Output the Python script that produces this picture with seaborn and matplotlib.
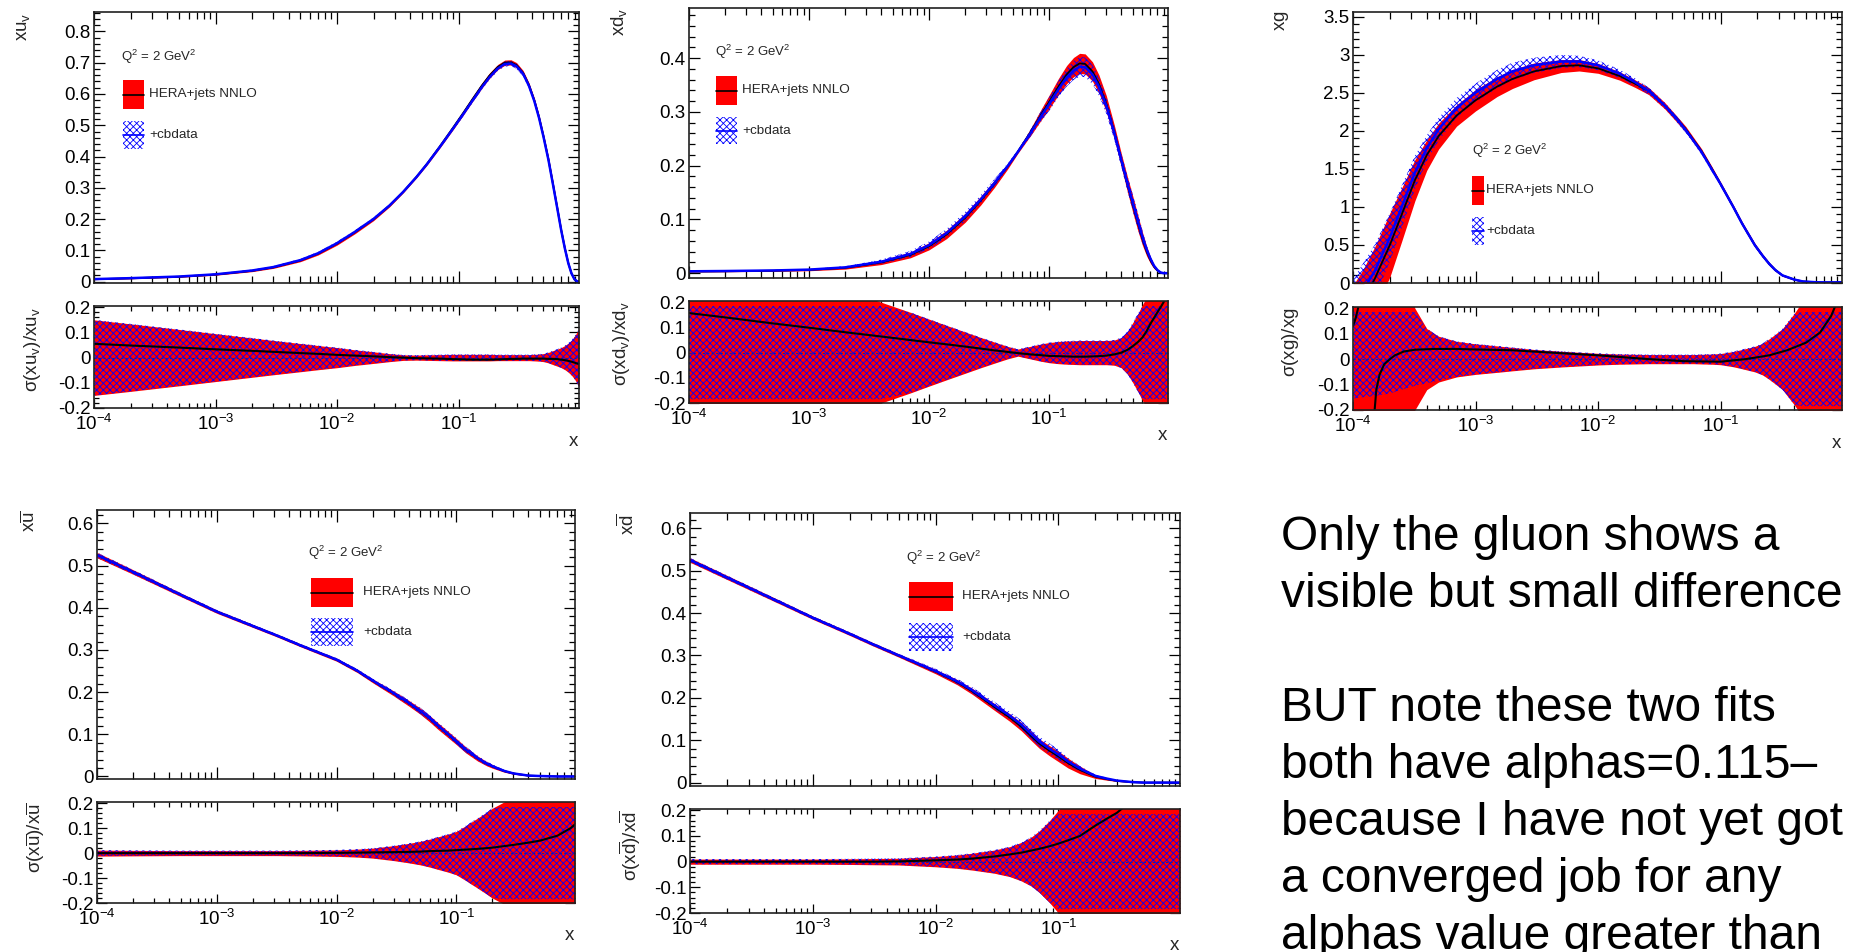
import numpy as np
import matplotlib
matplotlib.use("Agg")
import matplotlib.pyplot as plt
import seaborn as sns
from matplotlib.patches import Rectangle
from matplotlib.lines import Line2D
from matplotlib.ticker import NullFormatter

# ------------------------------------------------------------------ data
# xu_v  (central value of HERA+jets NNLO, relative uncertainty, relative shift of +cbdata)
x_uv = [1e-4, 2e-4, 5e-4, 1e-3, 2e-3, 3e-3, 5e-3, 7e-3, 1e-2, 1.4e-2,
        2e-2, 2.7e-2, 3.5e-2, 4.5e-2, 5.5e-2, 7e-2, 9e-2, 0.11, 0.13, 0.155,
        0.18, 0.21, 0.24, 0.27, 0.3, 0.34, 0.38, 0.42, 0.46, 0.5,
        0.55, 0.6, 0.65, 0.7, 0.75, 0.8, 0.85, 0.9, 0.94, 0.98]
uv_central = [0.008, 0.011, 0.016, 0.023, 0.035, 0.046, 0.068, 0.090, 0.122, 0.158,
              0.200, 0.243, 0.287, 0.335, 0.377, 0.432, 0.492, 0.541, 0.583, 0.626,
              0.659, 0.686, 0.700, 0.701, 0.692, 0.667, 0.628, 0.580, 0.525, 0.465,
              0.390, 0.310, 0.235, 0.165, 0.107, 0.060, 0.027, 0.008, 0.002, 0.0]
uv_relerr = [0.150, 0.134, 0.112, 0.095, 0.078, 0.068, 0.056, 0.048, 0.040, 0.031,
             0.023, 0.016, 0.011, 0.010, 0.011, 0.012, 0.013, 0.013, 0.013, 0.013,
             0.013, 0.012, 0.012, 0.012, 0.012, 0.012, 0.012, 0.013, 0.014, 0.016,
             0.021, 0.028, 0.034, 0.040, 0.048, 0.058, 0.070, 0.085, 0.100, 0.115]
uv_shift = [0.055, 0.048, 0.040, 0.033, 0.027, 0.023, 0.018, 0.015, 0.011, 0.008,
            0.005, 0.002, 0.0, -0.002, -0.003, -0.004, -0.006, -0.007, -0.008, -0.008,
            -0.008, -0.007, -0.006, -0.005, -0.005, -0.004, -0.004, -0.004, -0.004, -0.004,
            -0.005, -0.005, -0.006, -0.008, -0.010, -0.013, -0.016, -0.020, -0.023, -0.025]

# xd_v
x_dv = [1e-4, 2e-4, 5e-4, 1e-3, 2e-3, 4e-3, 7e-3, 1e-2, 1.4e-2, 2e-2,
        2.7e-2, 3.5e-2, 4.5e-2, 5.5e-2, 7e-2, 8.5e-2, 0.1, 0.12, 0.14, 0.16,
        0.18, 0.2, 0.23, 0.26, 0.3, 0.35, 0.4, 0.45, 0.5, 0.55,
        0.6, 0.65, 0.7, 0.75, 0.8, 0.85, 0.9, 0.98]
dv_central = [0.003, 0.0035, 0.0045, 0.006, 0.010, 0.020, 0.034, 0.050, 0.072, 0.103,
              0.135, 0.166, 0.198, 0.226, 0.262, 0.293, 0.318, 0.347, 0.369, 0.383,
              0.390, 0.389, 0.375, 0.352, 0.315, 0.262, 0.210, 0.165, 0.127, 0.093,
              0.064, 0.041, 0.024, 0.012, 0.005, 0.001, 0.0, 0.0]
dv_relerr = [0.25, 0.25, 0.25, 0.25, 0.25, 0.20, 0.16, 0.133, 0.108, 0.082,
             0.060, 0.042, 0.025, 0.014, 0.025, 0.034, 0.040, 0.044, 0.046, 0.047,
             0.048, 0.048, 0.048, 0.048, 0.048, 0.050, 0.060, 0.085, 0.120, 0.155,
             0.190, 0.22, 0.25, 0.30, 0.30, 0.30, 0.30, 0.30]
dv_shift = [0.157, 0.140, 0.116, 0.099, 0.081, 0.064, 0.050, 0.041, 0.033, 0.024,
            0.016, 0.009, 0.003, -0.002, -0.007, -0.010, -0.013, -0.014, -0.015, -0.016,
            -0.016, -0.016, -0.015, -0.014, -0.012, -0.007, 0.000, 0.011, 0.026, 0.042,
            0.060, 0.085, 0.115, 0.138, 0.160, 0.180, 0.200, 0.240]

# xg
x_g = [1e-4, 1.2e-4, 1.5e-4, 2e-4, 2.5e-4, 3.2e-4, 4e-4, 5e-4, 7e-4, 1e-3,
       1.5e-3, 2e-3, 3e-3, 5e-3, 7e-3, 1e-2, 1.5e-2, 2e-2, 2.6e-2, 3.5e-2,
       4.3e-2, 5.2e-2, 6e-2, 7e-2, 8.5e-2, 0.1, 0.127, 0.15, 0.19, 0.22,
       0.25, 0.28, 0.32, 0.4, 0.47, 0.6, 0.7, 0.85, 0.98]
g_red = [-0.45, -0.25, 0.05, 0.50, 0.90, 1.35, 1.68, 1.93, 2.20, 2.40,
         2.58, 2.68, 2.78, 2.85, 2.86, 2.82, 2.72, 2.62, 2.52, 2.33,
         2.17, 2.02, 1.88, 1.73, 1.50, 1.30, 1.00, 0.78, 0.50, 0.36,
         0.25, 0.17, 0.10, 0.045, 0.02, 0.01, 0.008, 0.008, 0.01]
g_red_err = [0.42, 0.42, 0.42, 0.42, 0.35, 0.27, 0.20, 0.17, 0.14, 0.14,
             0.13, 0.125, 0.11, 0.085, 0.075, 0.065, 0.055, 0.05, 0.046, 0.042,
             0.04, 0.037, 0.035, 0.033, 0.03, 0.028, 0.025, 0.025, 0.025, 0.022,
             0.02, 0.016, 0.012, 0.008, 0.005, 0.004, 0.004, 0.004, 0.004]
g_blue = [-0.30, -0.10, 0.15, 0.60, 1.00, 1.45, 1.77, 2.02, 2.30, 2.50,
          2.68, 2.78, 2.86, 2.91, 2.91, 2.86, 2.75, 2.64, 2.52, 2.33,
          2.17, 2.01, 1.87, 1.72, 1.49, 1.30, 1.00, 0.78, 0.50, 0.36,
          0.25, 0.17, 0.10, 0.045, 0.02, 0.01, 0.008, 0.008, 0.01]
g_blue_err = [0.35, 0.35, 0.35, 0.32, 0.28, 0.22, 0.17, 0.15, 0.13, 0.12,
              0.12, 0.115, 0.10, 0.085, 0.075, 0.065, 0.055, 0.05, 0.046, 0.042,
              0.04, 0.037, 0.035, 0.033, 0.03, 0.028, 0.025, 0.025, 0.025, 0.022,
              0.02, 0.016, 0.012, 0.008, 0.005, 0.004, 0.004, 0.004, 0.004]
g_rat_err = [0.50, 0.50, 0.50, 0.50, 0.35, 0.20, 0.12, 0.09, 0.07, 0.06,
             0.052, 0.046, 0.038, 0.031, 0.027, 0.023, 0.020, 0.019, 0.018, 0.018,
             0.018, 0.018, 0.018, 0.019, 0.020, 0.022, 0.030, 0.038, 0.050, 0.062,
             0.080, 0.098, 0.120, 0.180, 0.230, 0.30, 0.30, 0.30, 0.30]
g_rat_blue_lo = [-0.155, -0.150, -0.145, -0.135, -0.120, -0.105, -0.095, -0.085, -0.070, -0.060,
                 -0.052, -0.046, -0.038, -0.031, -0.027, -0.023, -0.020, -0.019, -0.018, -0.018,
                 -0.018, -0.018, -0.018, -0.019, -0.020, -0.022, -0.030, -0.038, -0.050, -0.062,
                 -0.080, -0.098, -0.120, -0.180, -0.185, -0.185, -0.185, -0.185, -0.185]
g_shift_x_left = [1e-4, 1.05e-4, 1.1e-4, 1.15e-4]
g_shift_left = [0.13, 0.16, 0.20, 0.25]
g_shift_x_right = [1.49e-4, 1.55e-4, 1.65e-4, 1.8e-4, 2e-4, 2.2e-4, 2.6e-4, 3.2e-4, 4.6e-4, 7e-4,
                   1e-3, 2e-3, 4e-3, 1e-2, 2.6e-2, 5e-2, 0.1, 0.16, 0.25, 0.35, 0.5, 0.65, 0.8, 0.9]
g_shift_right = [-0.22, -0.12, -0.06, -0.02, 0.0, 0.015, 0.03, 0.037, 0.04, 0.04,
                 0.038, 0.035, 0.026, 0.015, 0.0, -0.008, -0.010, 0.0, 0.015, 0.035, 0.065, 0.105, 0.17, 0.23]

# x ubar
x_ub = [1e-4, 2e-4, 5e-4, 1e-3, 2e-3, 3.2e-3, 5e-3, 1e-2, 1.5e-2, 2e-2,
        3e-2, 4e-2, 5e-2, 6e-2, 7e-2, 8.5e-2, 0.1, 0.12, 0.15, 0.18,
        0.2, 0.25, 0.3, 0.4, 0.5, 0.7, 0.9, 0.98]
ub_central = [0.525, 0.485, 0.431, 0.391, 0.357, 0.334, 0.311, 0.277, 0.250, 0.227,
              0.197, 0.174, 0.155, 0.137, 0.120, 0.100, 0.083, 0.063, 0.043, 0.030,
              0.024, 0.013, 0.007, 0.002, 0.001, 0.0, 0.0, 0.0]
ub_relerr = [0.012, 0.011, 0.010, 0.010, 0.010, 0.010, 0.011, 0.013, 0.016, 0.020,
             0.030, 0.039, 0.047, 0.056, 0.065, 0.076, 0.087, 0.110, 0.140, 0.165,
             0.180, 0.205, 0.25, 0.30, 0.30, 0.30, 0.30, 0.30]
ub_shift = [0.0, 0.0, 0.0, 0.0, 0.0, 0.0, 0.0, 0.001, 0.002, 0.003,
            0.004, 0.005, 0.006, 0.008, 0.009, 0.010, 0.012, 0.014, 0.017, 0.020,
            0.022, 0.028, 0.033, 0.042, 0.050, 0.070, 0.100, 0.115]

# x dbar
x_db = [1e-4, 2e-4, 5e-4, 1e-3, 2e-3, 3e-3, 5e-3, 1e-2, 1.5e-2, 2e-2,
        3e-2, 4e-2, 5e-2, 6e-2, 7e-2, 8.5e-2, 0.1, 0.12, 0.15, 0.2,
        0.25, 0.3, 0.4, 0.5, 0.7, 0.9, 0.98]
db_central = [0.525, 0.484, 0.430, 0.389, 0.351, 0.328, 0.300, 0.262, 0.237, 0.215,
              0.179, 0.154, 0.132, 0.110, 0.092, 0.075, 0.062, 0.046, 0.030, 0.014,
              0.008, 0.004, 0.001, 0.0, 0.0, 0.0, 0.0]
db_relerr = [0.010, 0.010, 0.010, 0.010, 0.011, 0.012, 0.013, 0.020, 0.026, 0.033,
             0.045, 0.058, 0.075, 0.095, 0.120, 0.160, 0.200, 0.25, 0.30, 0.30,
             0.30, 0.30, 0.30, 0.30, 0.30, 0.30, 0.30]
db_shift = [0.0, 0.0, 0.0, 0.0, 0.0, 0.0, 0.001, 0.005, 0.008, 0.012,
            0.020, 0.028, 0.035, 0.043, 0.050, 0.060, 0.070, 0.083, 0.100, 0.140,
            0.168, 0.190, 0.240, 0.30, 0.30, 0.30, 0.30]

BLUE_CAP = 0.185   # +cbdata ratio band reaches up to this value

X_MAJOR = [1e-4, 1e-3, 1e-2, 1e-1]
X_LABELS = [r"$\mathregular{10^{-4}}$", r"$\mathregular{10^{-3}}$",
            r"$\mathregular{10^{-2}}$", r"$\mathregular{10^{-1}}$"]
RATIO_TICKS = [-0.2, -0.1, 0.0, 0.1, 0.2]
RATIO_LABELS = ["-0.2", "-0.1", "0", "0.1", "0.2"]

notes = ["Only the gluon shows a",
         "visible but small difference",
         "",
         "BUT note these two fits",
         "both have alphas=0.115\u2013",
         "because I have not yet got",
         "a converged job for any",
         "alphas value greater than"]

# ------------------------------------------------------------------ style
W, H, DPI = 1851, 952, 100
RED = "#ff0000"
BLUE = "#0000ff"
HATCH = "xxxxx"
X_LO, X_HI = 1e-4, 0.98
X_MINOR = [m * 10.0 ** e for e in range(-4, 0) for m in range(2, 10)]
FS = 13.5

sns.set_theme(style="ticks")
plt.rcParams["font.family"] = ["Liberation Sans", "DejaVu Sans"]
plt.rcParams["mathtext.fontset"] = "custom"
plt.rcParams["mathtext.rm"] = "Liberation Sans"
plt.rcParams["mathtext.it"] = "Liberation Sans:italic"
plt.rcParams["mathtext.bf"] = "Liberation Sans:bold"
plt.rcParams["axes.unicode_minus"] = False
plt.rcParams["hatch.linewidth"] = 0.6

fig = plt.figure(figsize=(W / DPI, H / DPI), dpi=DPI)
fig.patch.set_facecolor("white")


def px_axes(l, t, r, b):
    return fig.add_axes([l / W, 1 - b / H, (r - l) / W, (b - t) / H])


def ftext(x, y, s, **kw):
    fig.text(x / W, 1 - y / H, s, **kw)


def frect(x0, y0, x1, y1, **kw):
    fig.add_artist(Rectangle((x0 / W, 1 - y1 / H), (x1 - x0) / W, (y1 - y0) / H,
                             transform=fig.transFigure, **kw))


def fline(x0, x1, y, **kw):
    fig.add_artist(Line2D([x0 / W, x1 / W], [1 - y / H, 1 - y / H],
                          transform=fig.transFigure, **kw))


def style(ax, ylim, yt, ylab, ymin, show_x, ratio=False):
    ax.set_xscale("log")
    ax.set_xlim(X_LO, X_HI)
    ax.set_ylim(*ylim)
    ax.set_yticks(yt, ylab)
    ax.set_yticks(ymin, minor=True)
    ax.set_xticks(X_MAJOR, X_LABELS if show_x else [""] * 4)
    ax.set_xticks(X_MINOR, minor=True)
    ax.xaxis.set_minor_formatter(NullFormatter())
    ax.tick_params(axis="both", which="both", direction="in", top=True, right=True,
                   colors="black", labelsize=FS, width=0.9)
    ax.tick_params(axis="x", which="major", length=6.5 if ratio else 8.5, pad=4)
    ax.tick_params(axis="x", which="minor", length=3.5 if ratio else 5)
    ax.tick_params(axis="y", which="major", length=7 if ratio else 8, pad=2.5)
    ax.tick_params(axis="y", which="minor", length=3.5 if ratio else 4)
    for s in ax.spines.values():
        s.set_linewidth(1.2)
        s.set_color("#202020")
    ax.set_xlabel("")
    ax.set_ylabel("")
    ax.grid(False)
    ax.set_facecolor("white")


def main_panel(box, x, lo, hi, c, blo, bhi, cb, ylim, yt, ylab, ymin):
    ax = px_axes(*box)
    ax.fill_between(x, lo, hi, color=RED, lw=0)
    ax.fill_between(x, blo, bhi, facecolor="none", edgecolor=BLUE, hatch=HATCH, lw=0)
    sns.lineplot(x=x, y=c, ax=ax, color="black", lw=1.3, estimator=None, sort=False)
    sns.lineplot(x=x, y=cb, ax=ax, color=BLUE, lw=1.8, estimator=None, sort=False)
    style(ax, ylim, yt, ylab, ymin, False)
    return ax


def ratio_panel(box, x, rlo, rhi, blo, bhi, shifts):
    ax = px_axes(*box)
    ax.fill_between(x, rlo, rhi, color=RED, lw=0)
    ax.fill_between(x, blo, bhi, facecolor="none", edgecolor=BLUE, hatch=HATCH, lw=0)
    ax.axhline(0, color="#1a1aa0", lw=0.8, ls=(0, (2, 2)))
    for xs, ys in shifts:
        sns.lineplot(x=xs, y=ys, ax=ax, color="black", lw=1.5, estimator=None, sort=False)
    style(ax, (-0.2, 0.205), RATIO_TICKS, RATIO_LABELS,
          np.arange(-0.2, 0.2001, 0.02), True, ratio=True)
    return ax


def legend(q, red, blue, tx):
    ftext(q[0], q[1], r"Q$^{2}$ = 2 GeV$^{2}$", fontsize=9.5, ha="left", va="center")
    frect(*red, facecolor=RED, lw=0)
    fline(red[0], red[2], (red[1] + red[3]) / 2, color="black", lw=1.2)
    ftext(tx, (red[1] + red[3]) / 2, "HERA+jets NNLO", fontsize=9.7, ha="left", va="center")
    frect(*blue, facecolor="none", edgecolor=BLUE, hatch=HATCH, lw=0)
    fline(blue[0], blue[2], (blue[1] + blue[3]) / 2, color=BLUE, lw=1.2)
    ftext(tx, (blue[1] + blue[3]) / 2, "+cbdata", fontsize=9.7, ha="left", va="center")


def simple_pdf(mbox, rbox, x, c, r, s, ylim, yt, ylab, ymin):
    c = np.asarray(c, float)
    r = np.asarray(r, float)
    s = np.asarray(s, float)
    cb = c * (1 + s)
    rb = np.minimum(r, BLUE_CAP)
    main_panel(mbox, x, c * (1 - r), c * (1 + r), c, cb * (1 - rb), cb * (1 + rb), cb,
               ylim, yt, ylab, ymin)
    ratio_panel(rbox, x, -r, r, -rb, rb, [(x, s)])


def labels(main_xy, ratio_xy, main_lab, ratio_lab, xlab_xy):
    ftext(main_xy[0], main_xy[1], main_lab, rotation=90, ha="center", va="top", fontsize=FS)
    ftext(ratio_xy[0], ratio_xy[1], ratio_lab, rotation=90, ha="center", va="top", fontsize=FS)
    ftext(xlab_xy[0], xlab_xy[1], "x", ha="right", va="center", fontsize=FS)


# ---------------- panel 1: xu_v
yt1 = [0, 0.1, 0.2, 0.3, 0.4, 0.5, 0.6, 0.7, 0.8]
simple_pdf((94, 12, 579, 283), (94, 306, 579, 408), x_uv, uv_central, uv_relerr, uv_shift,
           (-0.004, 0.862), yt1, ["0", "0.1", "0.2", "0.3", "0.4", "0.5", "0.6", "0.7", "0.8"],
           np.arange(0, 0.861, 0.02))
legend((121, 57), (123, 80, 144, 109), (123, 121, 144, 149), 149)
labels((24, 13), (32, 307), r"$\mathregular{xu_{v}}$", r"$\mathregular{\sigma(xu_{v})/xu_{v}}$",
       (578, 442))

# ---------------- panel 2: xd_v
yt2 = [0, 0.1, 0.2, 0.3, 0.4]
simple_pdf((689, 8, 1168, 278), (689, 301, 1168, 403), x_dv, dv_central, dv_relerr, dv_shift,
           (-0.009, 0.493), yt2, ["0", "0.1", "0.2", "0.3", "0.4"], np.arange(0, 0.4901, 0.02))
legend((715, 52), (716, 76, 737, 105), (716, 117, 737, 144), 742)
labels((619, 8), (621, 301), r"$\mathregular{xd_{v}}$", r"$\mathregular{\sigma(xd_{v})/xd_{v}}$",
       (1167, 436))

# ---------------- panel 3: xg
gr = np.asarray(g_red)
ge = np.asarray(g_red_err)
gb = np.asarray(g_blue)
gbe = np.asarray(g_blue_err)
main_panel((1353, 12, 1842, 283), x_g, gr - ge, gr + ge, gr, gb - gbe, gb + gbe, gb,
           (0, 3.56), [0, 0.5, 1, 1.5, 2, 2.5, 3, 3.5],
           ["0", "0.5", "1", "1.5", "2", "2.5", "3", "3.5"], np.arange(0, 3.56, 0.1))
gre = np.asarray(g_rat_err)
ratio_panel((1353, 307, 1842, 410), x_g, -gre, gre, g_rat_blue_lo, np.minimum(gre, BLUE_CAP),
            [(g_shift_x_left, g_shift_left), (g_shift_x_right, g_shift_right)])
legend((1472, 151), (1472, 176, 1484, 205), (1472, 217, 1484, 245), 1486)
labels((1282, 10), (1290, 307), r"$\mathregular{xg}$", r"$\mathregular{\sigma(xg)/xg}$",
       (1841, 443))

# ---------------- panel 4: x ubar
yt4 = [0, 0.1, 0.2, 0.3, 0.4, 0.5, 0.6]
yl4 = ["0", "0.1", "0.2", "0.3", "0.4", "0.5", "0.6"]
simple_pdf((97, 510, 575, 779), (97, 802, 575, 903), x_ub, ub_central, ub_relerr, ub_shift,
           (-0.006, 0.632), yt4, yl4, np.arange(0, 0.631, 0.02))
legend((308, 553), (311, 578, 353, 607), (311, 618, 353, 646), 363)
labels((30, 510), (36, 802), r"$\mathregular{x\overline{u}}$",
       r"$\mathregular{\sigma(x\overline{u})/x\overline{u}}$", (574, 935))

# ---------------- panel 5: x dbar
simple_pdf((690, 513, 1180, 786), (690, 809, 1180, 913), x_db, db_central, db_relerr, db_shift,
           (-0.008, 0.636), yt4, yl4, np.arange(0, 0.631, 0.02))
legend((906, 558), (909, 582, 953, 611), (909, 623, 953, 651), 962)
labels((627, 513), (630, 810), r"$\mathregular{x\overline{d}}$",
       r"$\mathregular{\sigma(x\overline{d})/x\overline{d}}$", (1179, 945))

# ---------------- notes on the right
for i, line in enumerate(notes):
    if line:
        ftext(1281, 550 + 57 * i, line, fontsize=34.5, ha="left", va="baseline", color="black")

fig.savefig("out.png", dpi=DPI, facecolor="white")
